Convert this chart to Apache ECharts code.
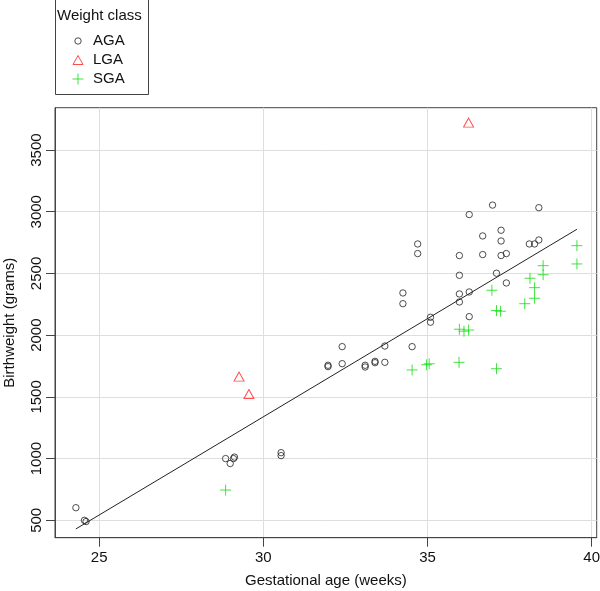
<!DOCTYPE html>
<html><head><meta charset="utf-8">
<script src="https://cdn.jsdelivr.net/npm/echarts@6/dist/echarts.min.js"></script>
<style>html,body{margin:0;padding:0;background:#fff}#c{width:600px;height:591px}</style>
</head><body><div id="c"></div>
<script>
const categories = ['AGA', 'LGA', 'SGA'];

const agaAge = [24.29, 24.55, 24.6, 28.85, 28.99, 29.09, 29.12, 30.54, 30.54, 31.97, 31.97, 32.40, 32.40,
  33.10, 33.10, 33.40, 33.40, 33.70, 33.70, 34.25, 34.25, 34.53, 34.70, 34.70, 35.09, 35.09,
  35.97, 35.97, 35.97, 35.97, 36.27, 36.27, 36.27, 36.68, 36.68, 36.98, 37.10, 37.24, 37.24, 37.24,
  37.40, 37.40, 38.10, 38.26, 38.39, 38.39];
const agaWeight = [602, 500, 490, 1000, 960, 1000, 1012, 1048, 1024, 1756, 1745, 1907, 1769,
  1756, 1742, 1788, 1777, 1780, 1912, 2342, 2255, 1907, 2739, 2661, 2145, 2105,
  2645, 2485, 2334, 2269, 2977, 2350, 2150, 2804, 2653, 3054, 2502, 2850, 2763, 2645,
  2661, 2423, 2739, 2739, 2771, 3033];

const lgaAge = [29.26, 29.56, 36.25];
const lgaWeight = [1664, 1523, 3722];

const sgaAge = [28.85, 34.53, 34.97, 35.05, 35.96, 37.10, 35.97, 36.11, 36.25, 36.96, 37.10, 37.22,
  37.96, 38.12, 38.26, 38.26, 38.52, 38.52, 39.55, 39.55];
const sgaWeight = [745, 1718, 1760, 1768, 1780, 1728, 2048, 2032, 2042, 2364, 2199, 2194,
  2255, 2461, 2385, 2299, 2563, 2490, 2725, 2577];

const fitAge = [24.29, 39.55];
const fitWeight = [430, 2858];

const xTicks = [25, 30, 35, 40];
const yTicks = [500, 1000, 1500, 2000, 2500, 3000, 3500];

const pair = (xs, ys) => xs.map((x, i) => [x, ys[i]]);
const FONT = 'Liberation Sans, Arial, sans-serif';
const TXT = '#111';
const AX = '#444';

const plusPath = 'path://M0,5.5L11,5.5M5.5,0L5.5,11';
const circleIcon = 'path://M0,0M11,11M2.3,5.5A3.2,3.2,0,1,1,8.7,5.5A3.2,3.2,0,1,1,2.3,5.5Z';
const triIcon = 'path://M0,0M11,11M0.5,10L5.5,1L10.5,10Z';

const chart = echarts.init(document.getElementById('c'), null, { renderer: 'canvas' });
chart.setOption({
  animation: false,
  backgroundColor: '#fff',
  textStyle: { fontFamily: FONT },
  title: {
    text: 'Weight class', left: 57, top: 8, padding: 0,
    textStyle: { fontFamily: FONT, fontSize: 15, fontWeight: 'normal', color: TXT }
  },
  legend: {
    orient: 'vertical', left: 72, top: 33.5, padding: 0, itemGap: 4,
    itemWidth: 20, itemHeight: 11,
    itemStyle: { borderWidth: 1 },
    textStyle: { fontFamily: FONT, fontSize: 15, color: TXT },
    data: [
      { name: categories[0], icon: circleIcon },
      { name: categories[1], icon: triIcon },
      { name: categories[2], icon: plusPath }
    ]
  },
  graphic: [{
    type: 'rect', shape: { x: 55.5, y: -0.5, width: 93, height: 95 },
    style: { fill: 'none', stroke: AX, lineWidth: 1 }, silent: true
  }],
  grid: {
    left: 55, right: 3.3, top: 107.7, bottom: 53.3,
    outerBoundsMode: 'none', containLabel: false,
    show: true, borderColor: AX, borderWidth: 1, backgroundColor: 'transparent'
  },
  xAxis: {
    type: 'value', min: 23.654, max: 40.152,
    name: 'Gestational age (weeks)', nameLocation: 'middle', nameGap: 36,
    nameTextStyle: { fontFamily: FONT, fontSize: 15, color: TXT },
    axisLine: { show: true, lineStyle: { color: AX } },
    axisTick: { show: true, length: 9, lineStyle: { color: AX }, customValues: xTicks },
    axisLabel: { fontFamily: FONT, fontSize: 15, color: TXT, margin: 13, customValues: xTicks,
      formatter: v => String(v) },
    splitLine: { show: true, lineStyle: { color: '#dedede', width: 1 } }
  },
  yAxis: {
    type: 'value', min: 359, max: 3843,
    name: 'Birthweight (grams)', nameLocation: 'middle', nameGap: 38,
    nameTextStyle: { fontFamily: FONT, fontSize: 15, color: TXT },
    axisLine: { show: true, lineStyle: { color: AX } },
    axisTick: { show: true, length: 9, lineStyle: { color: AX }, customValues: yTicks },
    axisLabel: { fontFamily: FONT, fontSize: 15, color: TXT, margin: 11, rotate: 90, customValues: yTicks,
      formatter: v => String(v) },
    splitLine: { show: true, lineStyle: { color: '#dedede', width: 1 } }
  },
  series: [
    {
      name: 'fit', type: 'line', data: pair(fitAge, fitWeight), symbol: 'none',
      lineStyle: { color: '#222', width: 1 }, silent: true, z: 1
    },
    {
      name: categories[0], type: 'scatter', data: pair(agaAge, agaWeight),
      symbol: 'circle', symbolSize: 6.4,
      itemStyle: { color: 'rgba(0,0,0,0)', borderColor: '#222', borderWidth: 1 }, z: 3
    },
    {
      name: categories[1], type: 'scatter', data: pair(lgaAge, lgaWeight),
      symbol: 'triangle', symbolSize: [10, 9],
      itemStyle: { color: 'rgba(0,0,0,0)', borderColor: '#ff2020', borderWidth: 1 }, z: 3
    },
    {
      name: categories[2], type: 'scatter', data: pair(sgaAge, sgaWeight),
      symbol: plusPath, symbolSize: 11,
      itemStyle: { color: 'rgba(0,0,0,0)', borderColor: '#14dc14', borderWidth: 1 }, z: 3
    }
  ]
});
</script></body></html>
